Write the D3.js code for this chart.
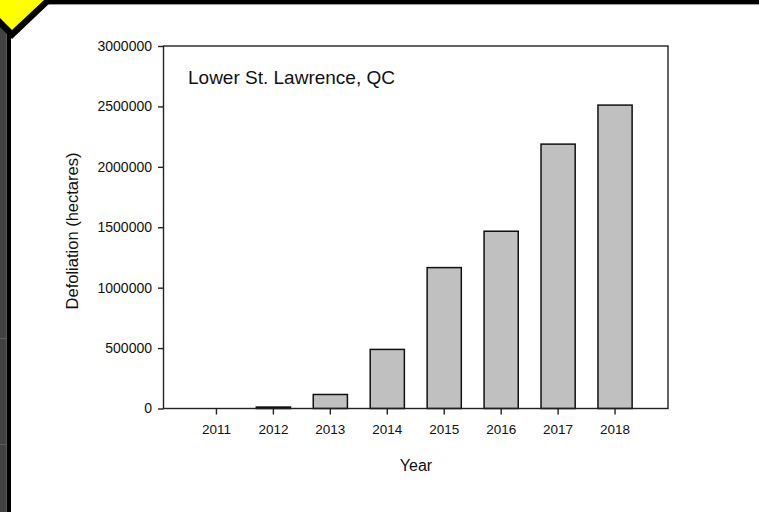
<!DOCTYPE html>
<html>
<head>
<meta charset="utf-8">
<script src="https://cdn.jsdelivr.net/npm/d3@7"></script>
<style>
  html, body { margin: 0; padding: 0; background: #fff; }
  svg { display: block; font-family: Arial, "Liberation Sans", sans-serif; }
</style>
</head>
<body>
<svg id="chart" width="759" height="512"></svg>
<script>
// Annual spruce budworm defoliation area, Lower St. Lawrence region
const years = ["2011", "2012", "2013", "2014", "2015", "2016", "2017", "2018"];
const defoliation = [0, 12000, 116000, 489000, 1166000, 1467000, 2188000, 2511000];
const yTicks = [0, 500000, 1000000, 1500000, 2000000, 2500000, 3000000];
const titleText = "Lower St. Lawrence, QC";
const xTitle = "Year";
const yTitle = "Defoliation (hectares)";

const svg = d3.select("#chart");
const W = 759, H = 512;

// window chrome around the figure
svg.append("rect").attr("x", 0).attr("y", 0).attr("width", W).attr("height", H).attr("fill", "#fff");
svg.append("rect").attr("x", 0).attr("y", 0).attr("width", W).attr("height", 4).attr("fill", "#000");
svg.append("rect").attr("x", 0).attr("y", 4).attr("width", W).attr("height", 1).attr("fill", "#9a9a9a");
svg.append("rect").attr("x", 0).attr("y", 0).attr("width", 6).attr("height", H).attr("fill", "#424242");
svg.append("rect").attr("x", 6).attr("y", 0).attr("width", 1).attr("height", H).attr("fill", "#5a5a5a");
svg.append("rect").attr("x", 7).attr("y", 0).attr("width", 4).attr("height", H).attr("fill", "#000");
[338, 444].forEach(yy => svg.append("rect").attr("x", 0).attr("y", yy).attr("width", 6).attr("height", 1).attr("fill", "#5c5c5c"));
svg.append("polygon").attr("points", "0,0 53,0 12,39 0,27").attr("fill", "#000");
svg.append("polygon").attr("points", "0,0 44,0 12,30 0,18").attr("fill", "#ffff00");

// plot area
const plotLeft = 163.5, plotRight = 668, plotTop = 46, plotBottom = 408.5;

const x = d3.scaleBand()
  .domain(years)
  .range([plotLeft, plotRight])
  .paddingInner(0.4)
  .paddingOuter(0.63);

const y = d3.scaleLinear()
  .domain([0, 3000000])
  .range([plotBottom, plotTop]);

// bars
svg.append("g").selectAll("rect")
  .data(years.map((yr, i) => ({ yr, v: defoliation[i] })))
  .join("rect")
  .attr("x", d => x(d.yr))
  .attr("y", d => y(d.v))
  .attr("width", x.bandwidth())
  .attr("height", d => plotBottom - y(d.v))
  .attr("fill", "#c0c0c0")
  .attr("stroke", "#111")
  .attr("stroke-width", 1.5);

// frame
svg.append("rect")
  .attr("x", plotLeft).attr("y", plotTop)
  .attr("width", plotRight - plotLeft).attr("height", plotBottom - plotTop)
  .attr("fill", "none").attr("stroke", "#222").attr("stroke-width", 1.4);

// y axis
const yAxis = svg.append("g")
  .attr("transform", `translate(${plotLeft},0)`)
  .call(d3.axisLeft(y).tickValues(yTicks).tickFormat(d3.format("d")).tickSize(5.5).tickPadding(6));
yAxis.select(".domain").remove();
yAxis.selectAll(".tick line").attr("stroke", "#222").attr("stroke-width", 1.4);
yAxis.selectAll(".tick text")
  .attr("fill", "#111")
  .style("font-size", "14px")
  .style("font-family", "Arial, 'Liberation Sans', sans-serif");

// x axis
const xAxis = svg.append("g")
  .attr("transform", `translate(0,${plotBottom})`)
  .call(d3.axisBottom(x).tickSize(6).tickSizeOuter(0).tickPadding(10));
xAxis.select(".domain").remove();
xAxis.selectAll(".tick line").attr("stroke", "#222").attr("stroke-width", 1.4);
xAxis.selectAll(".tick text")
  .attr("fill", "#111")
  .style("font-size", "13.5px")
  .style("font-family", "Arial, 'Liberation Sans', sans-serif");

// titles
svg.append("text")
  .attr("x", 188).attr("y", 84)
  .attr("fill", "#111")
  .style("font-size", "19px")
  .text(titleText);

svg.append("text")
  .attr("x", 416).attr("y", 471)
  .attr("text-anchor", "middle")
  .attr("fill", "#111")
  .style("font-size", "16px")
  .text(xTitle);

svg.append("text")
  .attr("transform", "translate(77.5,231) rotate(-90)")
  .attr("text-anchor", "middle")
  .attr("fill", "#111")
  .style("font-size", "16.5px")
  .text(yTitle);
</script>
</body>
</html>
